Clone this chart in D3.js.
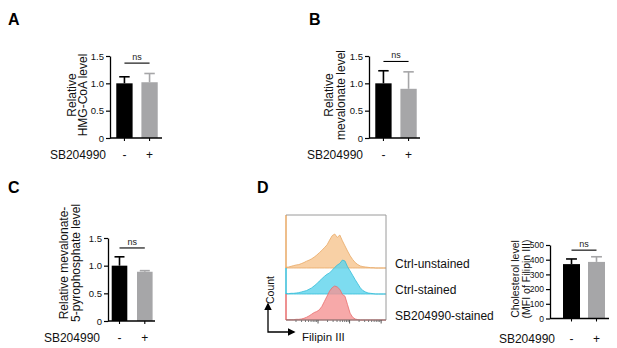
<!DOCTYPE html>
<html>
<head>
<meta charset="utf-8">
<script src="https://cdn.jsdelivr.net/npm/d3@7"></script>
<style>
  html, body { margin: 0; padding: 0; background: #fff; }
  svg { display: block; font-family: "Liberation Sans", Arial, sans-serif; }
</style>
</head>
<body>
<svg id="fig" width="617" height="348"></svg>
<script>
// groups and values
const groups = ['-', '+'];
const hmgMean = [1.00, 1.02];
const hmgErr = [0.12, 0.16];
const mevMean = [1.00, 0.90];
const mevErr = [0.23, 0.31];
const mppMean = [1.00, 0.89];
const mppErr = [0.16, 0.02];
const cholMean = [370, 385];
const cholErr = [35, 35];
const relTicks = [0, 0.5, 1.0, 1.5];
const cholTicks = [0, 100, 200, 300, 400, 500];

// flow histograms (relative counts, 40 bins across the Filipin III range)
const histLabels = ['Ctrl-unstained', 'Ctrl-stained', 'SB204990-stained'];
const histUnstained = [0.02, 0.03, 0.05, 0.07, 0.09, 0.10, 0.13, 0.16, 0.20, 0.23,
  0.27, 0.32, 0.38, 0.45, 0.52, 0.60, 0.68, 0.82, 0.95, 1.00,
  0.90, 0.97, 0.80, 0.65, 0.50, 0.36, 0.25, 0.16, 0.10, 0.06,
  0.04, 0.03, 0.02, 0.01, 0.01, 0, 0, 0, 0, 0];
const histStained = [0.01, 0.01, 0.02, 0.02, 0.03, 0.04, 0.06, 0.08, 0.10, 0.14,
  0.18, 0.24, 0.30, 0.38, 0.45, 0.52, 0.58, 0.62, 0.70, 0.78,
  0.85, 0.90, 1.00, 0.97, 0.80, 0.68, 0.55, 0.42, 0.30, 0.18,
  0.10, 0.06, 0.03, 0.02, 0.01, 0, 0, 0, 0, 0];
const histSB = [0.01, 0.01, 0.01, 0.01, 0.02, 0.02, 0.03, 0.05, 0.08, 0.12,
  0.17, 0.22, 0.25, 0.30, 0.40, 0.55, 0.70, 0.85, 0.95, 1.00,
  0.97, 0.90, 0.75, 0.70, 0.45, 0.20, 0.08, 0.03, 0.01, 0,
  0, 0, 0, 0, 0, 0, 0, 0, 0, 0];

const svg = d3.select('#fig');
const barColors = ['#000000', '#a6a6a8'];
const fmtRel = d => d === 0 ? '0' : d3.format('.1f')(d);

function panelLetter(txt, x, y) {
  svg.append('text').attr('x', x).attr('y', y)
    .attr('font-size', 16).attr('font-weight', 'bold')
    .text(txt);
}

function barPanel(c) {
  const g = svg.append('g');
  const x = d3.scaleBand().domain(groups).range([c.axisX, c.rangeEnd])
    .paddingInner(c.pInner).paddingOuter(c.pOuter);
  const y = d3.scaleLinear().domain([0, c.yMax]).range([c.yBottom, c.yTop]);
  const data = groups.map((k, i) => ({ k, m: c.mean[i], e: c.err[i], col: barColors[i] }));

  g.selectAll('rect.bar').data(data).enter().append('rect')
    .attr('x', d => x(d.k)).attr('y', d => y(d.m))
    .attr('width', x.bandwidth()).attr('height', d => y(0) - y(d.m))
    .attr('fill', d => d.col);

  // error bars (upper only)
  const cap = x.bandwidth() * 0.32;
  data.forEach(d => {
    const cx = x(d.k) + x.bandwidth() / 2;
    g.append('line').attr('x1', cx).attr('x2', cx).attr('y1', y(d.m)).attr('y2', y(d.m + d.e))
      .attr('stroke', d.col).attr('stroke-width', 1.6);
    g.append('line').attr('x1', cx - cap).attr('x2', cx + cap).attr('y1', y(d.m + d.e)).attr('y2', y(d.m + d.e))
      .attr('stroke', d.col).attr('stroke-width', 1.6);
  });

  const ya = g.append('g').attr('transform', `translate(${c.axisX},0)`)
    .call(d3.axisLeft(y).tickValues(c.ticks).tickFormat(c.fmt).tickSize(4).tickSizeOuter(0).tickPadding(2));
  ya.select('.domain').attr('stroke-width', 1.3);
  ya.selectAll('.tick line').attr('stroke-width', 1.2);
  ya.selectAll('text').attr('font-size', c.tickFont).attr('fill', '#111')
    .attr('font-family', 'Liberation Sans, Arial, sans-serif');

  const xa = g.append('g').attr('transform', `translate(0,${c.yBottom})`)
    .call(d3.axisBottom(x).tickSize(3).tickSizeOuter(0).tickPadding(c.xPad));
  xa.select('.domain').remove();
  xa.selectAll('.tick line').attr('stroke-width', 1.1);
  xa.selectAll('text').attr('font-size', 12).attr('fill', '#111')
    .attr('font-family', 'Liberation Sans, Arial, sans-serif');
  g.append('line').attr('x1', c.axisX).attr('x2', c.xEnd).attr('y1', c.yBottom).attr('y2', c.yBottom)
    .attr('stroke', '#000').attr('stroke-width', 1.3);

  // ns bracket
  const bx1 = x(groups[0]) + x.bandwidth() / 2;
  const bx2 = x(groups[1]) + x.bandwidth() / 2;
  g.append('line').attr('x1', bx1).attr('x2', bx2).attr('y1', y(c.brY)).attr('y2', y(c.brY))
    .attr('stroke', '#000').attr('stroke-width', 1.1);
  g.append('text').attr('x', (bx1 + bx2) / 2).attr('y', y(c.brY) - 3)
    .attr('text-anchor', 'middle').attr('font-size', 9).attr('fill', '#222').text('ns');

  // y label
  c.ylab.forEach((t, i) => {
    g.append('text').attr('transform', `translate(${c.ylabX[i]},${c.ylabY}) rotate(-90)`)
      .attr('text-anchor', 'middle').attr('font-size', c.labFont).attr('fill', '#111').text(t);
  });
  g.append('text').attr('x', c.sbX).attr('y', c.sbY).attr('text-anchor', 'end')
    .attr('font-size', 12).attr('fill', '#111').text('SB204990');
}

panelLetter('A', 8, 25);
barPanel({ mean: hmgMean, err: hmgErr, ticks: relTicks, fmt: fmtRel, yMax: 1.5,
  axisX: 110, rangeEnd: 164, xEnd: 162, pInner: 0.35, pOuter: 0.25,
  yBottom: 138, yTop: 56, tickFont: 9.5, xPad: 9.5, brY: 1.37,
  ylab: ['Relative', 'HMG-CoA level'], ylabX: [76, 87], ylabY: 95, labFont: 12,
  sbX: 106, sbY: 159 });

panelLetter('B', 309, 25);
barPanel({ mean: mevMean, err: mevErr, ticks: relTicks, fmt: fmtRel, yMax: 1.5,
  axisX: 369, rangeEnd: 423, xEnd: 420, pInner: 0.35, pOuter: 0.25,
  yBottom: 138, yTop: 56, tickFont: 9.5, xPad: 9.5, brY: 1.4,
  ylab: ['Relative', 'mevalonate level'], ylabX: [333, 345], ylabY: 95, labFont: 12,
  sbX: 363, sbY: 159 });

panelLetter('C', 8, 193);
barPanel({ mean: mppMean, err: mppErr, ticks: relTicks, fmt: fmtRel, yMax: 1.5,
  axisX: 108, rangeEnd: 156.3, xEnd: 155, pInner: 0.383, pOuter: 0.146,
  yBottom: 321, yTop: 238, tickFont: 9.5, xPad: 9.5, brY: 1.32,
  ylab: ['Relative mevalonate-', '5-pyrophosphate level'], ylabX: [68, 80], ylabY: 263, labFont: 12,
  sbX: 100, sbY: 342 });

panelLetter('D', 257, 193);
barPanel({ mean: cholMean, err: cholErr, ticks: cholTicks, fmt: d3.format('d'), yMax: 500,
  axisX: 550, rangeEnd: 618, xEnd: 609, pInner: 0.32, pOuter: 0.52,
  yBottom: 318.5, yTop: 245, tickFont: 8.5, xPad: 13, brY: 465,
  ylab: ['Cholesterol level', '(MFI of Filipin III)'], ylabX: [519, 530], ylabY: 279, labFont: 10.5,
  sbX: 555, sbY: 343 });

// ---- flow histogram overlay ----
const box = { x0: 286, x1: 386, y0: 215, y1: 320 };
const laneBase = [268, 294, 320];
const laneTop = [215, 268, 294];
const peakH = 34;
const hists = [histUnstained, histStained, histSB];
const fills = ['#f6c48e', '#5cd3ec', '#f59494'];
const edges = ['#e9a865', '#34bcd8', '#e86d6d'];

const hg = svg.append('g');
const hx = d3.scaleLinear().domain([0, histUnstained.length - 1]).range([box.x0, box.x1]);

hists.forEach((h, i) => {
  const hy = d3.scaleLinear().domain([0, 1]).range([laneBase[i], laneBase[i] - peakH]);
  const area = d3.area().x((d, j) => hx(j)).y0(laneBase[i]).y1(d => hy(d));
  hg.append('path').datum(h).attr('d', area)
    .attr('fill', fills[i]).attr('fill-opacity', 0.8)
    .attr('stroke', edges[i]).attr('stroke-width', 0.8);
  hg.append('line').attr('x1', box.x0).attr('x2', box.x0).attr('y1', laneTop[i]).attr('y2', laneBase[i])
    .attr('stroke', edges[i]).attr('stroke-width', 1.5);
  hg.append('text').attr('x', 395).attr('y', laneBase[i])
    .attr('font-size', 12).attr('fill', '#111').text(histLabels[i]);
});

// frame
hg.append('path')
  .attr('d', `M${box.x0},${box.y0}H${box.x1}V${box.y1}`)
  .attr('fill', 'none').attr('stroke', '#9a9a9a').attr('stroke-width', 1);
hg.append('line').attr('x1', box.x0).attr('x2', box.x1).attr('y1', box.y1).attr('y2', box.y1)
  .attr('stroke', '#777').attr('stroke-width', 1);

// log ticks on the fluorescence axis
const lx = d3.scaleLog().domain([1, Math.pow(10, 3.17)]).range([box.x0, box.x1]);
const majors = [10, 100, 1000];
const minors = lx.ticks().filter(v => !majors.includes(v) && v > 1);
hg.append('g').attr('transform', `translate(0,${box.y1})`)
  .call(d3.axisBottom(lx).tickValues(minors).tickSize(2).tickFormat(''))
  .call(a => a.select('.domain').remove())
  .selectAll('line').attr('stroke', '#777');
hg.append('g').attr('transform', `translate(0,${box.y1})`)
  .call(d3.axisBottom(lx).tickValues(majors).tickSize(3.5).tickFormat(''))
  .call(a => a.select('.domain').remove())
  .selectAll('line').attr('stroke', '#555');

// Count / Filipin III arrows
svg.append('defs').append('marker').attr('id', 'arr').attr('viewBox', '0 0 10 10')
  .attr('refX', 8).attr('refY', 5).attr('markerWidth', 6).attr('markerHeight', 6)
  .attr('orient', 'auto-start-reverse')
  .append('path').attr('d', 'M0,0L10,5L0,10z').attr('fill', '#000');
svg.append('path').attr('d', 'M268,304V332H294')
  .attr('fill', 'none').attr('stroke', '#000').attr('stroke-width', 1.3)
  .attr('marker-start', 'url(#arr)').attr('marker-end', 'url(#arr)');
svg.append('text').attr('transform', 'translate(274,290) rotate(-90)')
  .attr('text-anchor', 'middle').attr('font-size', 10.5).attr('fill', '#111').text('Count');
svg.append('text').attr('x', 302).attr('y', 341)
  .attr('font-size', 11.5).attr('fill', '#111').text('Filipin III');
</script>
</body>
</html>
